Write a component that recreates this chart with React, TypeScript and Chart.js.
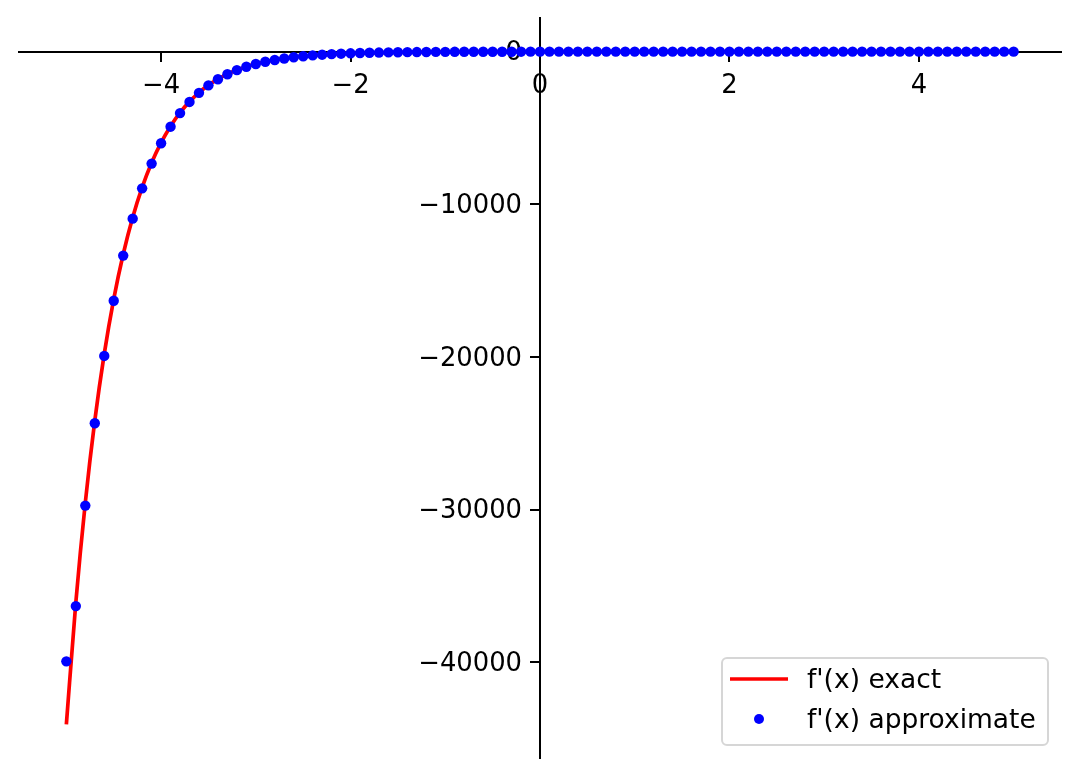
import { useEffect, useRef } from "react";
import { Chart, registerables } from "chart.js";

Chart.register(...registerables);

// approximate derivative sample positions (x) and values (y)
const dotX = [
  -5.0, -4.9, -4.8, -4.7, -4.6, -4.5, -4.4, -4.3, -4.2, -4.1,
  -4.0, -3.9, -3.8, -3.7, -3.6, -3.5, -3.4, -3.3, -3.2, -3.1,
  -3.0, -2.9, -2.8, -2.7, -2.6, -2.5, -2.4, -2.3, -2.2, -2.1,
  -2.0, -1.9, -1.8, -1.7, -1.6, -1.5, -1.4, -1.3, -1.2, -1.1,
  -1.0, -0.9, -0.8, -0.7, -0.6, -0.5, -0.4, -0.3, -0.2, -0.1,
  0.0, 0.1, 0.2, 0.3, 0.4, 0.5, 0.6, 0.7, 0.8, 0.9,
  1.0, 1.1, 1.2, 1.3, 1.4, 1.5, 1.6, 1.7, 1.8, 1.9,
  2.0, 2.1, 2.2, 2.3, 2.4, 2.5, 2.6, 2.7, 2.8, 2.9,
  3.0, 3.1, 3.2, 3.3, 3.4, 3.5, 3.6, 3.7, 3.8, 3.9,
  4.0, 4.1, 4.2, 4.3, 4.4, 4.5, 4.6, 4.7, 4.8, 4.9,
  5.0,
];
const dotY = [
  -39927, -36308, -29727, -24338, -19927, -16314, -13357, -10936, -8954, -7331,
  -6002, -4914, -4023, -3294, -2697, -2208, -1808, -1480, -1212, -992,
  -812, -665, -544, -446, -365, -299, -245, -200, -164, -134,
  -110, -90, -74, -60, -49, -40, -33, -27, -22, -18,
  -15, -12, -10, -8, -7, -5, -5, -4, -3, -2,
  -2, -2, -1, -1, -1, -1, -1, 0, 0, 0,
  0, 0, 0, 0, 0, 0, 0, 0, 0, 0,
  0, 0, 0, 0, 0, 0, 0, 0, 0, 0,
  0, 0, 0, 0, 0, 0, 0, 0, 0, 0,
  0, 0, 0, 0, 0, 0, 0, 0, 0, 0,
  0,
];

// exact derivative curve
const lineX = [
  -5.0, -4.9, -4.8, -4.7, -4.6, -4.5, -4.4, -4.3, -4.2, -4.1,
  -4.0, -3.9, -3.8, -3.7, -3.6, -3.5, -3.4, -3.3, -3.2, -3.1,
  -3.0, -2.9, -2.8, -2.7, -2.6, -2.5, -2.4, -2.3, -2.2, -2.1,
  -2.0, -1.5, -1.0, -0.5, 0.0, 0.5, 1.0, 2.0, 3.0, 4.0, 5.0,
];
const lineY = [
  -44053, -36067, -29530, -24177, -19794, -16206, -13268, -10863, -8894, -7282,
  -5962, -4881, -3996, -3272, -2679, -2193, -1796, -1470, -1204, -986,
  -807, -661, -541, -443, -363, -297, -243, -199, -163, -133,
  -109, -40, -15, -5, -2, -1, 0, 0, 0, 0, 0,
];

const seriesLabels = ["f'(x) exact", "f'(x) approximate"];
const seriesColors = ["#ff0000", "#0000ff"];
const xTicks = [-4, -2, 0, 2, 4];
const yTicks = [-40000, -30000, -20000, -10000, 0];
const xRange = [-5.5, 5.5];
const yRange = [-46256, 2203];

const FONT = "DejaVu Sans";
const TICK_LEN = 9;
const Y_LABEL_GAP = 18; // tick length + pad, from axis to right edge of y labels
const Y_LABEL_DROP = 2;

const fmt = (v: number | string) => String(v).replace("-", "\u2212");

// Chart.js does not offset y labels for a value-positioned axis; move them left of the ticks
const yLabelShiftPlugin = {
  id: "yLabelShift",
  beforeDraw(chart: any) {
    const scale = chart.scales.y;
    if (!scale || typeof scale.getLabelItems !== "function") return;
    const items = scale.getLabelItems(chart.chartArea);
    if (!items || items.__shifted) return;
    items.forEach((it: any) => {
      if (it && it.options && Array.isArray(it.options.translation)) {
        it.options.translation[0] -= Y_LABEL_GAP;
        it.options.translation[1] += Y_LABEL_DROP;
      }
    });
    items.__shifted = true;
  },
};

const legendPlugin = {
  id: "mplLegend",
  afterDraw(chart: any) {
    const ctx: CanvasRenderingContext2D = chart.ctx;
    const ca = chart.chartArea;
    const w = 326;
    const h = 87;
    const x0 = ca.right - 13 - w;
    const y0 = ca.bottom - 13 - h;
    ctx.save();
    const r = 5;
    ctx.beginPath();
    ctx.moveTo(x0 + r, y0);
    ctx.lineTo(x0 + w - r, y0);
    ctx.arcTo(x0 + w, y0, x0 + w, y0 + r, r);
    ctx.lineTo(x0 + w, y0 + h - r);
    ctx.arcTo(x0 + w, y0 + h, x0 + w - r, y0 + h, r);
    ctx.lineTo(x0 + r, y0 + h);
    ctx.arcTo(x0, y0 + h, x0, y0 + h - r, r);
    ctx.lineTo(x0, y0 + r);
    ctx.arcTo(x0, y0, x0 + r, y0, r);
    ctx.closePath();
    ctx.fillStyle = "rgba(255,255,255,0.8)";
    ctx.fill();
    ctx.lineWidth = 2;
    ctx.strokeStyle = "#d6d6d6";
    ctx.stroke();
    // line sample
    ctx.beginPath();
    ctx.moveTo(x0 + 8, y0 + 21);
    ctx.lineTo(x0 + 66, y0 + 21);
    ctx.lineWidth = 3.5;
    ctx.strokeStyle = seriesColors[0];
    ctx.stroke();
    // dot sample
    ctx.beginPath();
    ctx.arc(x0 + 37, y0 + 61, 5, 0, Math.PI * 2);
    ctx.fillStyle = seriesColors[1];
    ctx.fill();
    // texts
    ctx.fillStyle = "#000000";
    ctx.font = `26.5px "${FONT}"`;
    ctx.textAlign = "left";
    ctx.textBaseline = "middle";
    ctx.fillText(seriesLabels[0], x0 + 85, y0 + 23);
    ctx.fillText(seriesLabels[1], x0 + 85, y0 + 63);
    ctx.restore();
  },
};

export default function App() {
  const canvasRef = useRef<HTMLCanvasElement | null>(null);

  useEffect(() => {
    if (!canvasRef.current) return;
    const tickFont = { family: FONT, size: 25.8 };
    const chart = new Chart(canvasRef.current, {
      type: "line",
      data: {
        datasets: [
          {
            label: seriesLabels[0],
            data: lineX.map((x, i) => ({ x, y: lineY[i] })),
            borderColor: seriesColors[0],
            backgroundColor: seriesColors[0],
            borderWidth: 3.7,
            pointRadius: 0,
            cubicInterpolationMode: "monotone",
            fill: false,
            order: 2,
          },
          {
            label: seriesLabels[1],
            data: dotX.map((x, i) => ({ x, y: dotY[i] })),
            showLine: false,
            borderColor: seriesColors[1],
            backgroundColor: seriesColors[1],
            pointBackgroundColor: seriesColors[1],
            pointBorderWidth: 0,
            pointRadius: 5.2,
            order: 1,
          },
        ],
      },
      options: {
        animation: false,
        responsive: true,
        maintainAspectRatio: false,
        devicePixelRatio: 1,
        events: [],
        layout: { padding: { left: 19, right: 19, top: 18, bottom: 19 } },
        plugins: {
          legend: { display: false },
          tooltip: { enabled: false },
        },
        scales: {
          x: {
            type: "linear",
            min: xRange[0],
            max: xRange[1],
            position: { y: 0 } as any,
            z: 1,
            afterBuildTicks: (scale: any) => {
              scale.ticks = xTicks.map((v) => ({ value: v }));
            },
            grid: {
              display: true,
              drawOnChartArea: false,
              drawTicks: true,
              tickLength: TICK_LEN,
              color: "#000000",
              lineWidth: 2,
            },
            border: { display: true, color: "#000000", width: 2 },
            ticks: {
              font: tickFont,
              color: "#000000",
              padding: 10,
              maxRotation: 0,
              autoSkip: false,
              callback: (v: any) => fmt(v),
            },
          },
          y: {
            type: "linear",
            min: yRange[0],
            max: yRange[1],
            position: { x: 0 } as any,
            z: 1,
            afterBuildTicks: (scale: any) => {
              scale.ticks = yTicks.map((v) => ({ value: v }));
            },
            grid: {
              display: true,
              drawOnChartArea: false,
              drawTicks: true,
              tickLength: TICK_LEN,
              color: "#000000",
              lineWidth: 2,
            },
            border: { display: true, color: "#000000", width: 2 },
            ticks: {
              font: tickFont,
              color: "#000000",
              padding: 0,
              autoSkip: false,
              callback: (v: any) => fmt(v),
            },
          },
        },
      },
      plugins: [yLabelShiftPlugin, legendPlugin],
    } as any);
    return () => chart.destroy();
  }, []);

  return (
    <div
      style={{
        position: "fixed",
        left: 0,
        top: 0,
        width: 1080,
        height: 777,
        background: "#ffffff",
      }}
    >
      <canvas ref={canvasRef} />
    </div>
  );
}
